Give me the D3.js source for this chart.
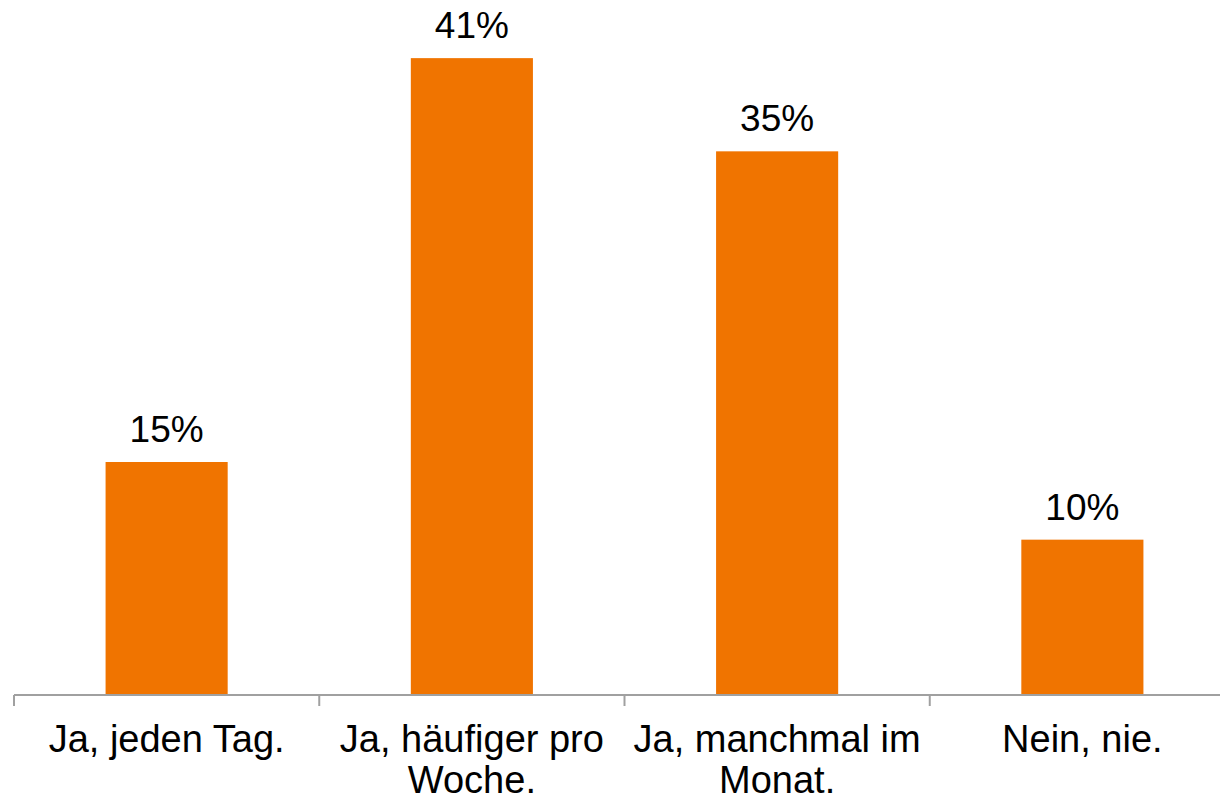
<!DOCTYPE html>
<html>
<head>
<meta charset="utf-8">
<script src="https://cdn.jsdelivr.net/npm/d3@7"></script>
<style>
  body { margin: 0; background: #fff; }
  text { font-family: "Liberation Sans", Arial, sans-serif; fill: #000; }
</style>
</head>
<body>
<div id="container"></div>
<script>
// data
var categories = ["Ja, jeden Tag.", "Ja, häufiger pro Woche.", "Ja, manchmal im Monat.", "Nein, nie."];
var values = [15, 41, 35, 10];

var width = 1220, height = 801;

var svg = d3.select("#container").append("svg")
	.attr("width", width)
	.attr("height", height);

// scales
var x = d3.scaleBand()
	.domain(categories)
	.range([14, 1235])
	.paddingInner(0.6)
	.paddingOuter(0.3);

var y = d3.scaleLinear()
	.domain([0, 45])
	.range([695, -4]);

// bars
svg.selectAll("rect.bar")
	.data(values)
	.enter().append("rect")
	.attr("class", "bar")
	.attr("x", function(d, i) { return x(categories[i]); })
	.attr("y", function(d) { return y(d); })
	.attr("width", x.bandwidth())
	.attr("height", function(d) { return y(0) - y(d); })
	.style("fill", "#f07400");

// value labels
svg.selectAll("text.value")
	.data(values)
	.enter().append("text")
	.attr("class", "value")
	.attr("x", function(d, i) { return x(categories[i]) + x.bandwidth() / 2; })
	.attr("y", function(d) { return y(d) - 20; })
	.attr("text-anchor", "middle")
	.style("font-size", "37px")
	.text(function(d) { return d + "%"; });

// x axis
var step = x.step();
var axis = svg.append("g")
	.attr("class", "x axis");

axis.append("line")
	.attr("x1", 14).attr("x2", 1235)
	.attr("y1", y(0)).attr("y2", y(0))
	.style("stroke", "#a0a0a0")
	.style("stroke-width", 2);

// tick marks between categories
axis.selectAll("line.tick")
	.data(d3.range(categories.length + 1))
	.enter().append("line")
	.attr("class", "tick")
	.attr("x1", function(i) { return 14 + i * step; })
	.attr("x2", function(i) { return 14 + i * step; })
	.attr("y1", y(0))
	.attr("y2", y(0) + 11)
	.style("stroke", "#a0a0a0")
	.style("stroke-width", 2);

// category labels, wrapped
var labels = axis.selectAll("text.cat")
	.data(categories)
	.enter().append("text")
	.attr("class", "cat")
	.attr("x", function(d) { return x(d) + x.bandwidth() / 2; })
	.attr("y", 752)
	.attr("text-anchor", "middle")
	.style("font-size", "38px");

labels.each(function(d) {
	var el = d3.select(this);
	var words = d.split(" "), line = [];
	var cx = +el.attr("x");
	var tspan = el.append("tspan").attr("x", cx).attr("dy", 0);
	words.forEach(function(w) {
		line.push(w);
		tspan.text(line.join(" "));
		if (tspan.node().getComputedTextLength() > step - 6 && line.length > 1) {
			line.pop();
			tspan.text(line.join(" "));
			line = [w];
			tspan = el.append("tspan").attr("x", cx).attr("dy", 41).text(w);
		}
	});
});
</script>
</body>
</html>
